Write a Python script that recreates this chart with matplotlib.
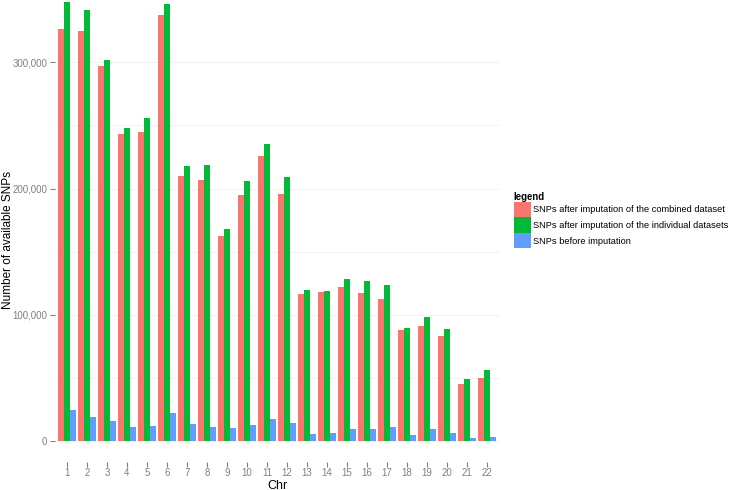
import numpy as np
import matplotlib
matplotlib.use("Agg")
import matplotlib.pyplot as plt
from matplotlib.patches import Patch
from matplotlib.ticker import FuncFormatter, MultipleLocator

# Datos
chrs = list(range(1, 23))
combined = [326000, 324600, 296700, 242800, 244900, 337800, 209600, 206600, 162300, 194500, 225900,
            195300, 116100, 118000, 121900, 117200, 112400, 87900, 90800, 83100, 44900, 50100]
individual = [348000, 341000, 302000, 247800, 255700, 346000, 217700, 218800, 167600, 205900, 235200,
              209000, 119600, 118800, 128500, 126700, 123300, 89200, 98200, 88900, 49300, 56200]
before = [24800, 19000, 15600, 10800, 12100, 22200, 13700, 11100, 10000, 12400, 17400,
          14300, 5500, 6300, 9800, 9800, 10800, 4500, 9800, 6100, 2600, 3500]
series_names = ["SNPs after imputation of the combined dataset",
                "SNPs after imputation of the individual datasets",
                "SNPs before imputation"]
colores = ["#F8766D", "#00BA38", "#619CFF"]

plt.rcParams['font.family'] = ['Liberation Sans', 'DejaVu Sans']

fig = plt.figure(figsize=(7.33, 4.9), dpi=100)
ax = fig.add_axes([55 / 733, 28 / 490, 444 / 733, 462 / 490])

x = np.arange(1, 23)
w = 0.3
for i, (vals, c) in enumerate(zip([combined, individual, before], colores)):
    ax.bar(x + (i - 1) * w, vals, width=w, color=c, linewidth=0, zorder=2)

ax.set_xlim(0.4, 22.6)
ax.set_ylim(-16600, 349300)
ax.set_xticks(x)
ax.set_xticklabels([str(c) for c in chrs])
ax.yaxis.set_major_locator(MultipleLocator(100000))
ax.yaxis.set_minor_locator(MultipleLocator(50000))
ax.yaxis.set_major_formatter(FuncFormatter(lambda v, p: f"{int(v):,}"))
ax.grid(axis='y', which='both', color='#f2f2f2', linewidth=0.8, zorder=0)
for s in ax.spines.values():
    s.set_visible(False)
ax.tick_params(axis='both', which='major', colors='#7f7f7f', labelcolor='#7f7f7f',
               labelsize=7, length=3.5, width=0.8, pad=2)
ax.tick_params(axis='y', which='minor', length=0)
ax.tick_params(axis='x', pad=1)

ax.set_xlabel('Chr', fontsize=9, va='center')
ax.xaxis.set_label_coords(0.5, -23.5 / 462)
ax.set_ylabel('Number of available SNPs', fontsize=8.5, va='center')
ax.yaxis.set_label_coords(-47 / 444, 0.48)

handles = [Patch(facecolor=c, edgecolor='none') for c in colores]
leg = fig.legend(handles, series_names, title='legend', loc='upper left',
                 bbox_to_anchor=(510 / 733, 1 - 188 / 490), frameon=False,
                 fontsize=6.7, title_fontsize=6.9, handlelength=1.85, handleheight=2.2,
                 handletextpad=0.25, labelspacing=0.0, borderaxespad=0)
leg.get_title().set_fontweight('bold')
leg._legend_box.align = 'left'

plt.savefig('out.png', dpi=100)
